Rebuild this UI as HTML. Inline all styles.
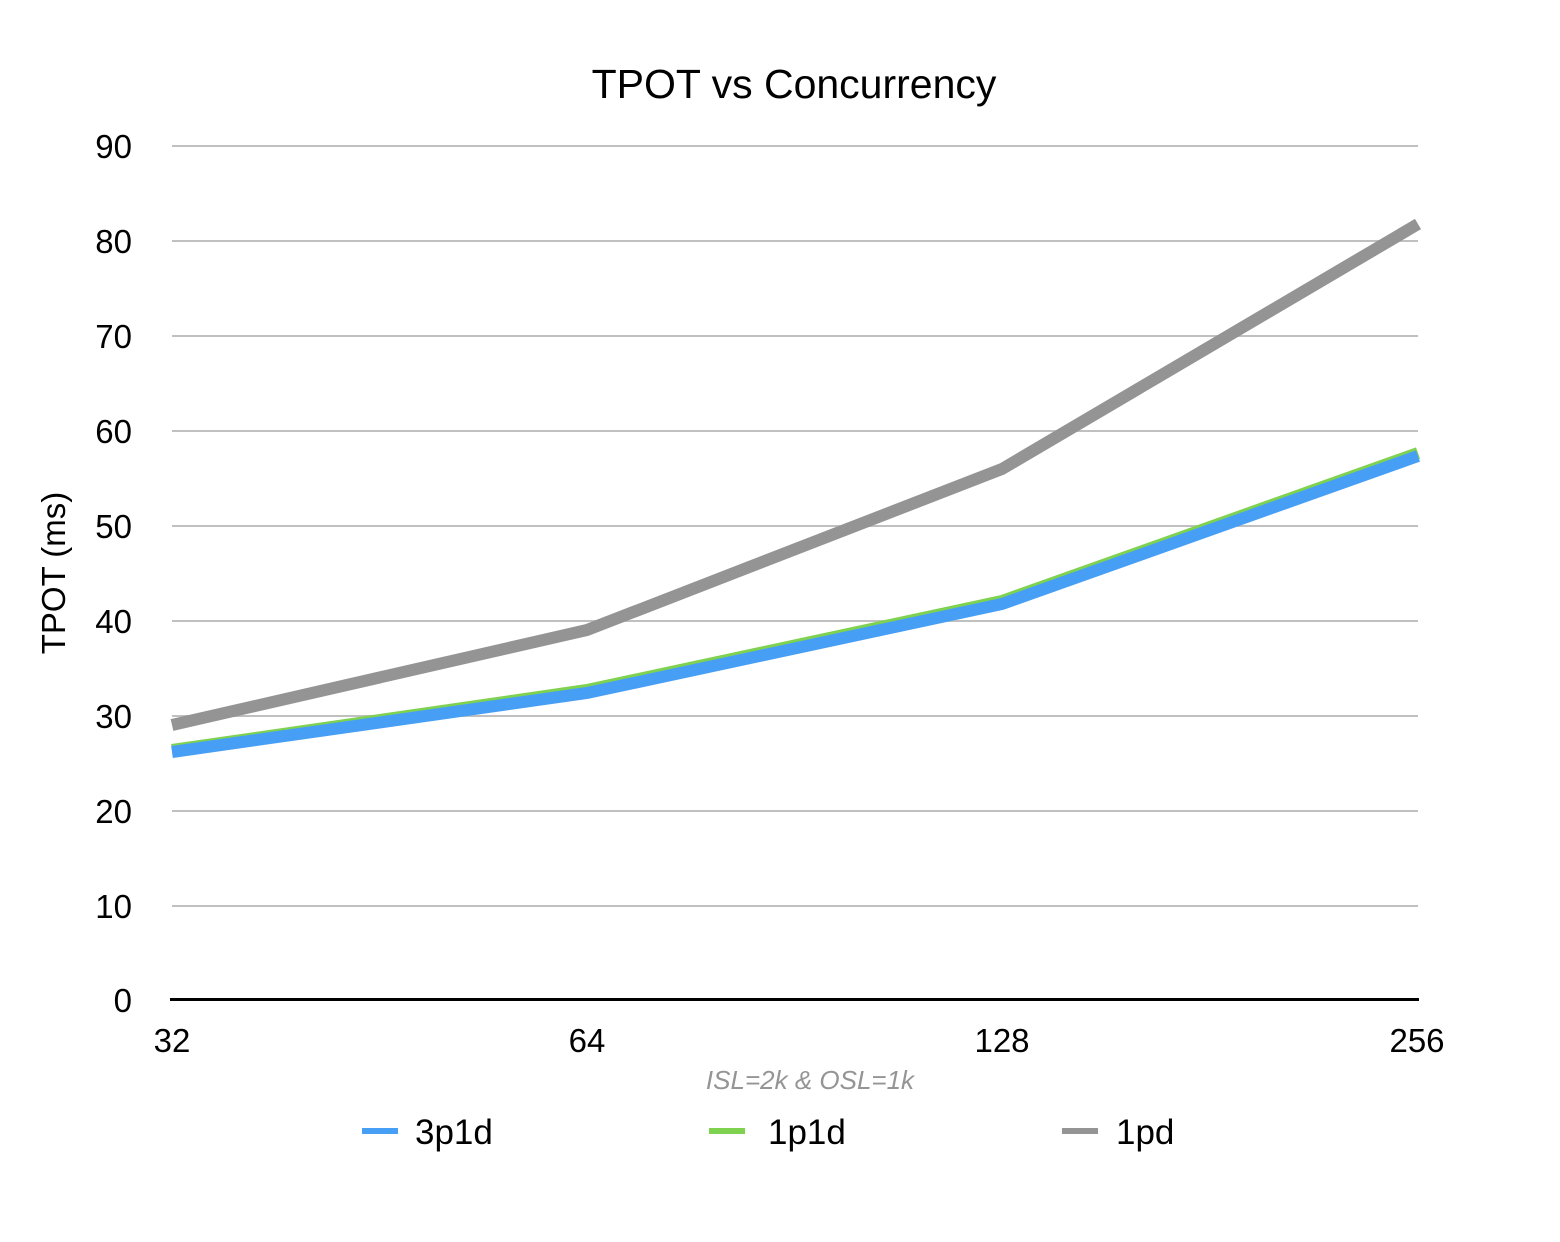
<!DOCTYPE html>
<html><head><meta charset="utf-8"><style>
html,body{margin:0;padding:0;background:#fff;}
svg{display:block;font-family:"Liberation Sans",Arial,sans-serif;}
</style></head><body>
<svg width="1560" height="1242" viewBox="0 0 1560 1242" xmlns="http://www.w3.org/2000/svg">
<rect width="1560" height="1242" fill="#fff"/>
<text x="794" y="98" font-size="41" text-anchor="middle" fill="#000">TPOT vs Concurrency</text>
<g stroke="#c0c0c0" stroke-width="2">
<line x1="172" x2="1418" y1="146" y2="146"/>
<line x1="172" x2="1418" y1="241" y2="241"/>
<line x1="172" x2="1418" y1="336" y2="336"/>
<line x1="172" x2="1418" y1="431" y2="431"/>
<line x1="172" x2="1418" y1="526" y2="526"/>
<line x1="172" x2="1418" y1="621" y2="621"/>
<line x1="172" x2="1418" y1="716" y2="716"/>
<line x1="172" x2="1418" y1="811" y2="811"/>
<line x1="172" x2="1418" y1="906" y2="906"/>
</g>
<line x1="170" x2="1419" y1="999.5" y2="999.5" stroke="#000" stroke-width="3"/>
<g font-size="33" fill="#000" text-anchor="end">
<text x="132" y="158">90</text>
<text x="132" y="253">80</text>
<text x="132" y="348">70</text>
<text x="132" y="443">60</text>
<text x="132" y="538">50</text>
<text x="132" y="633">40</text>
<text x="132" y="728">30</text>
<text x="132" y="823">20</text>
<text x="132" y="918">10</text>
<text x="132" y="1012">0</text>
</g>
<g font-size="33" fill="#000" text-anchor="middle">
<text x="172" y="1052">32</text>
<text x="587" y="1052">64</text>
<text x="1002" y="1052">128</text>
<text x="1417" y="1052">256</text>
</g>
<text transform="translate(65,573) rotate(-90)" font-size="33" text-anchor="middle" fill="#000">TPOT (ms)</text>
<text x="810" y="1089" font-size="26" font-style="italic" fill="#959595" text-anchor="middle">ISL=2k &amp; OSL=1k</text>
<polyline points="172,725 587,630 1002,469 1418,224" fill="none" stroke="#949494" stroke-width="12"/>
<polyline points="172,750 587,690 1002,601 1418,453" fill="none" stroke="#7ed24f" stroke-width="12"/>
<polyline points="172,752 587,693 1002,604 1418,456" fill="none" stroke="#479ff5" stroke-width="12"/>
<rect x="362" y="1128" width="36" height="6" fill="#479ff5"/>
<text x="415" y="1144" font-size="35" fill="#000">3p1d</text>
<rect x="709" y="1128" width="36" height="6" fill="#7ed24f"/>
<text x="768" y="1144" font-size="35" fill="#000">1p1d</text>
<rect x="1062" y="1128" width="36" height="6" fill="#949494"/>
<text x="1116" y="1144" font-size="35" fill="#000">1pd</text>
</svg>
</body></html>
